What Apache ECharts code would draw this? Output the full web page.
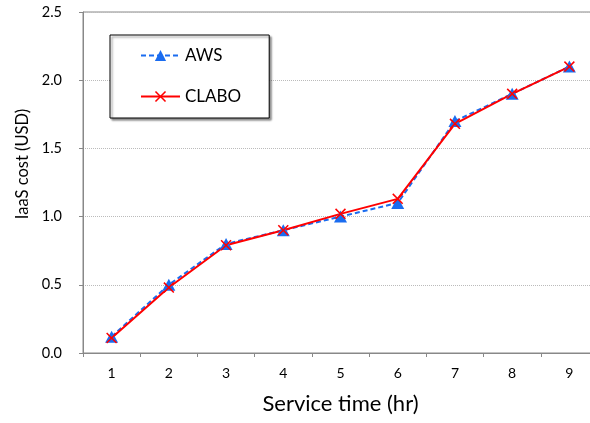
<!DOCTYPE html>
<html><head><meta charset="utf-8">
<script src="https://cdn.jsdelivr.net/npm/echarts@6/dist/echarts.min.js"></script>
<style>html,body{margin:0;padding:0;background:#fff}#c{width:590px;height:423px}</style>
</head><body><div id="c"></div>
<script>
var categories = ['1','2','3','4','5','6','7','8','9'];
var awsValues = [0.12, 0.50, 0.80, 0.90, 1.00, 1.10, 1.70, 1.90, 2.10];
var claboValues = [0.11, 0.48, 0.79, 0.90, 1.02, 1.13, 1.68, 1.90, 2.10];
var yTicks = [0, 0.5, 1.0, 1.5, 2.0, 2.5];

var FONT = 'Lato';
var xMark = 'path://M0,1 L1,0 L5,4 L9,0 L10,1 L6,5 L10,9 L9,10 L5,6 L1,10 L0,9 L4,5 Z';
var chart = echarts.init(document.getElementById('c'), null, {renderer:'canvas'});
chart.setOption({
  animation:false,
  textStyle:{fontFamily:FONT},
  grid:{left:83, top:12, width:515, bottom:70, show:true, borderColor:'#888', borderWidth:1,
        containLabel:false, outerBoundsMode:'none'},
  legend:{
    orient:'vertical', left:110, top:35,
    padding:[12,28,13,30], itemGap:24, itemWidth:39, itemHeight:14,
    backgroundColor:'#fff', borderColor:'#000', borderWidth:1,
    shadowColor:'rgba(0,0,0,0.45)', shadowOffsetX:2, shadowOffsetY:2, shadowBlur:2,
    textStyle:{fontFamily:FONT, fontSize:17, color:'#000'},
    data:['AWS','CLABO']
  },
  xAxis:{
    type:'category', data:categories, boundaryGap:true,
    name:'Service time (hr)', nameLocation:'middle', nameGap:40,
    nameTextStyle:{fontFamily:FONT, fontSize:22, color:'#000'},
    axisLine:{lineStyle:{color:'#888'}},
    axisTick:{show:true, alignWithLabel:false, length:4, lineStyle:{color:'#888'}},
    axisLabel:{fontFamily:FONT, fontSize:14, color:'#000', margin:13}
  },
  yAxis:{
    type:'value', min:yTicks[0], max:yTicks[yTicks.length-1], interval:0.5,
    name:'IaaS cost (USD)', nameLocation:'middle', nameGap:50,
    nameTextStyle:{fontFamily:FONT, fontSize:16.5, color:'#000', padding:[0,0,0,37]},
    axisLine:{show:true, lineStyle:{color:'#888'}},
    axisTick:{show:true, length:4, lineStyle:{color:'#888'}},
    axisLabel:{fontFamily:FONT, fontSize:14.5, color:'#000', margin:21,
      formatter:function(v){return v.toFixed(1);}},
    splitLine:{show:true, lineStyle:{color:'#bbb', type:'dotted', width:1}}
  },
  series:[
    {name:'AWS', type:'line', data:awsValues, symbol:'triangle', symbolSize:[13,12],
     lineStyle:{color:'#1a6cf0', width:2, type:[5,3]},
     itemStyle:{color:'#1a6cf0'}},
    {name:'CLABO', type:'line', data:claboValues, symbol:xMark, symbolSize:11,
     lineStyle:{color:'#ff0000', width:2},
     itemStyle:{color:'#ff0000'}}
  ]
});
</script></body></html>
